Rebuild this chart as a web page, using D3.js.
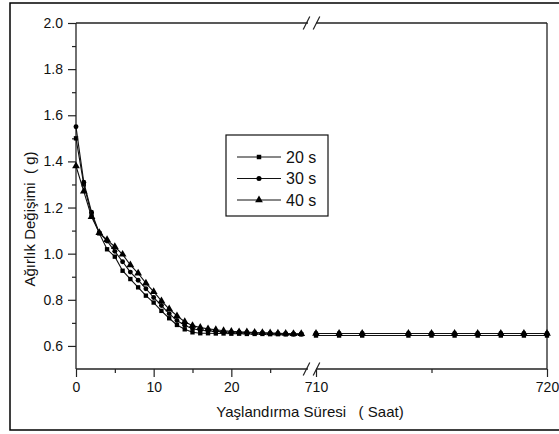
<!DOCTYPE html>
<html>
<head>
<meta charset="utf-8">
<script src="https://cdn.jsdelivr.net/npm/d3@7"></script>
<style>
  body { margin: 0; background: #fff; }
  svg { font-family: "Liberation Sans", Arial, sans-serif; }
</style>
</head>
<body>
<script>
// weight change vs ageing time, x axis broken between 30 and 710 h
var hoursA = d3.range(0, 30),
    hoursB = [710, 711, 712, 714, 715, 716, 717, 718, 719, 720];

var s20a = [1.50, 1.30, 1.17, 1.088, 1.019, 0.987, 0.926, 0.890, 0.854, 0.818,
            0.788, 0.752, 0.720, 0.691, 0.672, 0.659, 0.655, 0.655, 0.654, 0.654,
            0.653, 0.653, 0.652, 0.652, 0.652, 0.651, 0.651, 0.650, 0.650, 0.650];
var s30a = [1.55, 1.31, 1.18, 1.09, 1.055, 1.01, 0.965, 0.92, 0.885, 0.848,
            0.81, 0.775, 0.74, 0.71, 0.69, 0.675, 0.668, 0.665, 0.663, 0.661,
            0.660, 0.659, 0.658, 0.657, 0.656, 0.655, 0.654, 0.653, 0.652, 0.652];
var s40a = [1.38, 1.27, 1.16, 1.091, 1.06, 1.03, 0.997, 0.951, 0.915, 0.872,
            0.835, 0.795, 0.760, 0.730, 0.705, 0.688, 0.680, 0.674, 0.670, 0.666,
            0.663, 0.661, 0.660, 0.658, 0.657, 0.656, 0.655, 0.654, 0.653, 0.653];
var s20b = [0.645, 0.645, 0.645, 0.645, 0.645, 0.645, 0.645, 0.645, 0.645, 0.645];
var s30b = [0.654, 0.654, 0.654, 0.654, 0.654, 0.654, 0.654, 0.654, 0.654, 0.654];
var s40b = [0.654, 0.654, 0.654, 0.654, 0.654, 0.654, 0.654, 0.654, 0.654, 0.654];

var labels = ["20 s", "30 s", "40 s"],
    symbols = [d3.symbolSquare, d3.symbolCircle, d3.symbolTriangle],
    yMajor = [0.6, 0.8, 1.0, 1.2, 1.4, 1.6, 1.8, 2.0],
    yMinor = [0.7, 0.9, 1.1, 1.3, 1.5, 1.7, 1.9],
    xMajorA = [0, 10, 20], xMinorA = [5, 15, 25],
    xMajorB = [710, 720], xMinorB = [715];

var series = [
  {a: s20a, b: s20b},
  {a: s30a, b: s30b},
  {a: s40a, b: s40b}
];

var W = 559, H = 434;
var pLeft = 76, pRight = 547, pTop = 23, pBottom = 369,
    breakL = 308, breakR = 316;

var xA = d3.scaleLinear().domain([0, 30]).range([pLeft, 309]),
    xB = d3.scaleLinear().domain([710, 720]).range([breakR, pRight]),
    y = d3.scaleLinear().domain([0.5, 2.0]).range([pBottom, pTop]);

var svg = d3.select("body").append("svg")
  .attr("width", W).attr("height", H);

// outer frame
svg.append("rect")
  .attr("x", 10).attr("y", 3).attr("width", 560).attr("height", 427)
  .attr("fill", "none").attr("stroke", "#000").attr("stroke-width", 1.5);

var ink = "#222";

// y axis
var yAx = svg.append("g").attr("transform", "translate(" + pLeft + ",0)")
  .call(d3.axisLeft(y).tickValues(yMajor).tickSize(8).tickSizeOuter(0)
    .tickFormat(d3.format(".1f")));
svg.append("g").attr("transform", "translate(" + pLeft + ",0)")
  .call(d3.axisLeft(y).tickValues(yMinor).tickSize(4).tickFormat(""));

// x axes (two pieces)
var xAxes = [
  [xA, xMajorA, 8, null], [xA, xMinorA, 4, ""],
  [xB, xMajorB, 8, null], [xB, xMinorB, 4, ""]
];
xAxes.forEach(function(a) {
  var ax = d3.axisBottom(a[0]).tickValues(a[1]).tickSize(a[2]).tickSizeOuter(0);
  if (a[3] !== null) ax.tickFormat(a[3]);
  svg.append("g").attr("class", "xaxis")
    .attr("transform", "translate(0," + pBottom + ")").call(ax);
});

svg.selectAll(".domain").remove();
svg.selectAll(".tick line").attr("stroke", ink).attr("stroke-width", 1.2);
svg.selectAll(".tick text").attr("font-size", 14).attr("fill", "#111")
  .attr("font-family", "Liberation Sans, Arial, sans-serif");
yAx.selectAll(".tick text").attr("x", -13);
svg.selectAll(".xaxis .tick text").attr("y", 13);

// frame lines with the break
var frame = [
  [pLeft, pTop, pLeft, pBottom],
  [pRight, pTop, pRight, pBottom],
  [pLeft, pBottom, breakL, pBottom],
  [breakR, pBottom, pRight, pBottom],
  [pLeft, pTop, breakL, pTop],
  [breakR, pTop, pRight, pTop]
];
svg.selectAll("line.frame").data(frame).enter().append("line")
  .attr("class", "frame")
  .attr("x1", function(d){return d[0]}).attr("y1", function(d){return d[1]})
  .attr("x2", function(d){return d[2]}).attr("y2", function(d){return d[3]})
  .attr("stroke", ink).attr("stroke-width", 1.3);

// break marks
[pTop, pBottom].forEach(function(yy) {
  [breakL - 1.5, breakR + 0.5].forEach(function(xx) {
    svg.append("line")
      .attr("x1", xx - 3.3).attr("y1", yy + 6.5)
      .attr("x2", xx + 3.3).attr("y2", yy - 6.5)
      .attr("stroke", ink).attr("stroke-width", 1.2);
  });
});

// series
var lineA = d3.line().x(function(d){return xA(d[0])}).y(function(d){return y(d[1])}),
    lineB = d3.line().x(function(d){return xB(d[0])}).y(function(d){return y(d[1])});

series.forEach(function(s, i) {
  var ptsA = hoursA.map(function(h, k){return [h, s.a[k]]}),
      ptsB = hoursB.map(function(h, k){return [h, s.b[k]]});
  var g = svg.append("g");
  g.append("path").attr("d", lineA(ptsA))
    .attr("fill", "none").attr("stroke", "#111").attr("stroke-width", 1.1);
  g.append("path").attr("d", lineB(ptsB))
    .attr("fill", "none").attr("stroke", "#111").attr("stroke-width", 1.1);
  var sym = d3.symbol().type(symbols[i]).size(i == 2 ? 26 : 19);
  g.selectAll("path.ma").data(ptsA).enter().append("path")
    .attr("class", "ma")
    .attr("transform", function(d){return "translate(" + xA(d[0]) + "," + y(d[1]) + ")"})
    .attr("d", sym).attr("fill", "#000");
  g.selectAll("path.mb").data(ptsB).enter().append("path")
    .attr("class", "mb")
    .attr("transform", function(d){return "translate(" + xB(d[0]) + "," + y(d[1]) + ")"})
    .attr("d", sym).attr("fill", "#000");
});

// legend
var lg = svg.append("g");
lg.append("rect").attr("x", 226).attr("y", 135).attr("width", 102).attr("height", 81)
  .attr("fill", "#fff").attr("stroke", "#111").attr("stroke-width", 1.2);
labels.forEach(function(lab, i) {
  var yy = 157 + i * 21.5;
  lg.append("line").attr("x1", 237).attr("x2", 281).attr("y1", yy).attr("y2", yy)
    .attr("stroke", "#111").attr("stroke-width", 1);
  lg.append("path").attr("transform", "translate(259," + yy + ")")
    .attr("d", d3.symbol().type(symbols[i]).size(i == 2 ? 26 : 20)).attr("fill", "#000");
  lg.append("text").attr("x", 286).attr("y", yy).attr("dy", "0.36em")
    .attr("font-size", 16).attr("fill", "#111").text(lab);
});

// titles
svg.append("text").attr("x", 310).attr("y", 412).attr("dy", "0.35em")
  .attr("text-anchor", "middle").attr("font-size", 15).attr("fill", "#111")
  .style("white-space", "pre")
  .text("Yaşlandırma Süresi   ( Saat)");
svg.append("text")
  .attr("transform", "translate(30,219) rotate(-90)")
  .attr("dy", "0.35em")
  .attr("text-anchor", "middle").attr("font-size", 15).attr("fill", "#111")
  .style("white-space", "pre")
  .text("Ağırlık Değişimi  ( g)");
</script>
</body>
</html>
